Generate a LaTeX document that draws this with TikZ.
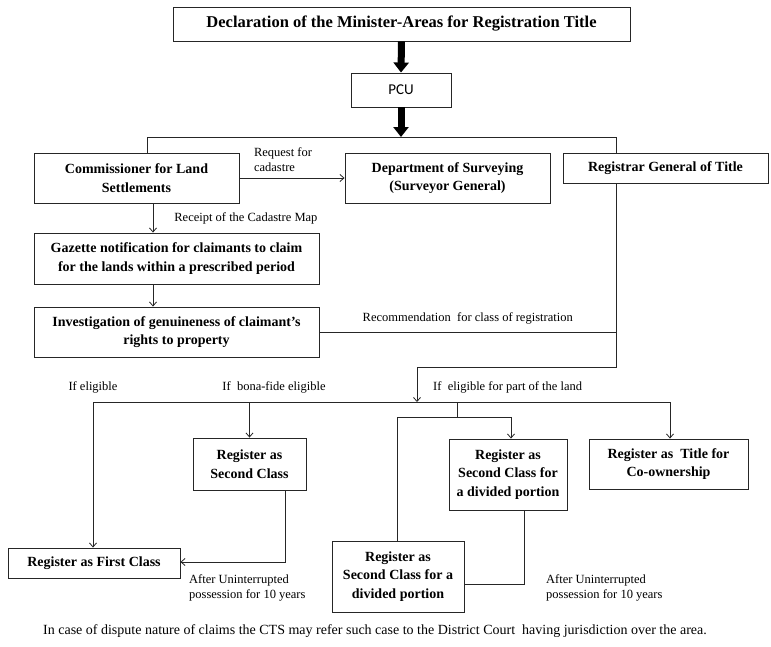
\documentclass[tikz,border=0pt]{standalone}
\usepackage{fontspec}
\setmainfont{Liberation Serif}
\newfontfamily\pcufont{Carlito}
\usetikzlibrary{arrows.meta}

\begin{document}
\begin{tikzpicture}[x=1pt,y=-1pt]
    \tikzstyle{box}=[draw=black!85,line width=0.9pt,fill=white,align=center,inner sep=2pt,font=\fontsize{14}{18.5}\selectfont\bfseries]
    \tikzstyle{note}=[font=\fontsize{12.5}{15}\selectfont,inner sep=1pt]
    \tikzstyle{flow}=[draw=black!85,line width=0.8pt]
    \tikzstyle{thin arrow}=[flow,-{Straight Barb[length=4pt,width=7pt]}]
    \tikzstyle{big arrow}=[draw=black,line width=7pt,-{Triangle[length=10pt,width=15pt]}]
    \useasboundingbox (0,0) rectangle (771,646);

    % boxes
    \node(decl)[box,minimum width=457,minimum height=34,font=\fontsize{16.5}{19}\selectfont\bfseries] at (401.5,24) {Declaration of the Minister-Areas for Registration Title};
    \node(pcu)[box,minimum width=100,minimum height=34,font=\fontsize{15}{18}\selectfont\pcufont] at (401,90) {PCU};
    \node(comm)[box,minimum width=205,minimum height=50] at (136.5,178) {Commissioner for Land\\Settlements};
    \node(dept)[box,minimum width=205,minimum height=50] at (447.5,178) {Department of Surveying\\(Surveyor General)};
    \node(regt)[box,minimum width=205,minimum height=30] at (665.5,168) {Registrar General of Title};
    \node(gaz)[box,minimum width=285,minimum height=51] at (176.5,258.5) {Gazette notification for claimants to claim\\for the lands within a prescribed period};
    \node(inv)[box,minimum width=285,minimum height=50] at (176.5,332) {Investigation of genuineness of claimant's\\rights to property};
    \node(first)[box,minimum width=172,minimum height=30] at (94,563) {Register as First Class};
    \node(second)[box,minimum width=113,minimum height=52] at (249.5,464) {Register as\\Second Class};
    \node(divA)[box,minimum width=118,minimum height=71] at (508,474.5) {Register as\\Second Class for\\a divided portion};
    \node(divB)[box,minimum width=132,minimum height=71] at (398,576.5) {Register as\\Second Class for a\\divided portion};
    \node(coown)[box,minimum width=159,minimum height=50] at (668.5,464) {Register as~ Title for\\Co-ownership};

    % junction points
    \coordinate (busL) at (147,137);
    \coordinate (busR) at (616,137);
    \coordinate (spine) at (153,0);
    \coordinate (recR) at (616,332);
    \coordinate (turn) at (417,367);
    \coordinate (busA) at (93,402);
    \coordinate (busB) at (670,402);
    \coordinate (fork) at (457,417);
    \coordinate (forkL) at (397,417);
    \coordinate (forkR) at (511,417);
    \coordinate (upB) at (285,562);
    \coordinate (upD) at (524,584);

    % connectors
    \draw[big arrow] (decl.south) -- (pcu.north);
    \draw[big arrow] (pcu.south) -- (pcu.south |- busL);
    \draw[flow] (comm.north -| busL) -- (busL) -- (busR) -- (regt.north -| busR);
    \draw[thin arrow] (comm.east) -- (dept.west)
        node[note,midway,above,align=left,xshift=-9,yshift=5]{Request for\\cadastre};
    \draw[thin arrow] (comm.south -| spine) -- (gaz.north -| spine)
        node[note,midway,right,xshift=20]{Receipt of the Cadastre Map};
    \draw[thin arrow] (gaz.south -| spine) -- (inv.north -| spine);
    \draw[flow] (inv.east) -- (recR)
        node[note,midway,above,yshift=6]{Recommendation~ for class of registration};
    \draw[thin arrow] (regt.south -| busR) |- (turn) -- (turn |- busA);
    \draw[flow] (busA) -- (busB);
    \draw[thin arrow] (busA) -- (first.north -| busA);
    \draw[thin arrow] (second.north |- busA) -- (second.north);
    \draw[thin arrow] (busB) -- (coown.north -| busB);
    \draw[flow] (fork |- busA) -- (fork);
    \draw[thin arrow] (divB.north -| forkL) -- (forkL) -- (forkR) -- (divA.north -| forkR);
    \draw[thin arrow] (second.south -| upB) -- (upB) -- (first.east |- upB);
    \draw[flow] (divA.south -| upD) -- (upD) -- (divB.east |- upD);

    % labels
    \node(ifel)[note] at (93,387) {If eligible};
    \node(ifbona)[note] at (274,387) {If~ bona-fide eligible};
    \node(ifpart)[note,anchor=west] at (432,387) {If~ eligible for part of the land};
    \node(after1)[note,align=left,anchor=west] at (188,588) {After Uninterrupted\\possession for 10 years};
    \node(after2)[note,align=left,anchor=west] at (545,588) {After Uninterrupted\\possession for 10 years};
    \node(dispute)[note,font=\fontsize{14}{16}\selectfont] at (375,631) {In case of dispute nature of claims the CTS may refer such case to the District Court~ having jurisdiction over the area.};
\end{tikzpicture}
\end{document}
